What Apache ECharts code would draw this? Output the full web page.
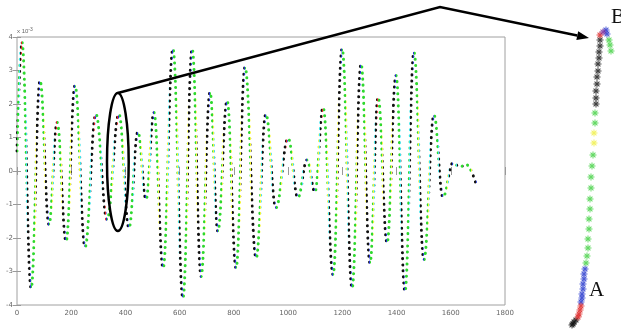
<html>
  <head>
    <meta http-equiv="Content-Type" content="text/html; charset=utf-8" />
    <script src="https://cdn.jsdelivr.net/npm/echarts@6.0.0/dist/echarts.min.js"></script>
  </head>
  <body style="margin:0">
    <div id="main" style="width: 621px;height:330px;"></div>
    <script type="text/javascript">
// turning points of the signal: sample index and value (x 1e-3)
var turnX = [0, 18, 52, 85, 118, 148, 181, 214, 251, 291, 332, 376, 413, 446, 476, 505,
  539, 575, 612, 646, 679, 712, 741, 775, 808, 841, 882, 918, 955, 1000, 1036, 1070,
  1099, 1129, 1166, 1199, 1236, 1269, 1302, 1332, 1365, 1398, 1431, 1464, 1501, 1538,
  1571, 1608, 1634, 1656, 1697];
var turnY = [0.6, 3.85, -3.5, 2.7, -1.6, 1.45, -2.1, 2.55, -2.27, 1.7, -1.45, 1.7, -1.7, 1.17, -0.85, 1.75,
  -2.9, 3.65, -3.8, 3.65, -3.15, 2.35, -1.8, 2.1, -2.9, 3.1, -2.6, 1.7, -1.1, 0.98, -0.8, 0.33,
  -0.63, 1.9, -3.1, 3.65, -3.5, 3.2, -2.75, 2.2, -2.15, 2.85, -3.6, 3.55, -2.65, 1.67,
  -0.78, 0.24, 0.12, 0.2, -0.48];

// colour classes along each half swing (fraction of the swing where each class ends)
var phaseEnd = [0.42, 0.5, 0.57, 0.86, 0.93, 1];
var phaseColor = ['#2ed82e', '#f4f43a', '#3fe0e8', '#111111', '#e02020', '#1f2fd0'];

// zoomed segment A-B on the right (inset units)
var insetBlack = [[600, 40], [600, 46], [599, 52], [599, 58], [598, 64], [598, 71], [597, 77],
  [597, 84], [596, 91], [596, 98], [596, 104], [576, 320], [574, 322], [573, 324], [572, 325]];
var insetRed = [[600, 35], [581, 306], [580, 310], [579, 314], [578, 317]];
var insetPurple = [[603, 32]];
var insetBlue = [[606, 30], [607, 34], [585, 269], [584, 274], [584, 279], [583, 284],
  [583, 289], [582, 294], [582, 298], [581, 302]];
var insetGreen = [[609, 40], [610, 45], [611, 51], [595, 113], [595, 123], [593, 155],
  [592, 166], [591, 177], [591, 188], [590, 199], [590, 209], [589, 219], [589, 229],
  [588, 239], [588, 248], [587, 256], [586, 263]];
var insetYellow = [[594, 133], [594, 143]];

var myChart = echarts.init(document.getElementById('main'));

var lineData = turnX.map(function (x, i) { return [x, turnY[i]]; });

var pieces = [];
for (var i = 0; i < turnX.length - 1; i++) {
  var x0 = turnX[i], x1 = turnX[i + 1], prev = x0;
  for (var k = 0; k < phaseEnd.length; k++) {
    var end = x0 + (x1 - x0) * phaseEnd[k];
    pieces.push({ gte: prev, lt: end, color: phaseColor[k] });
    prev = end;
  }
}

var asterisk = 'path://M-0.14,-1L0.14,-1L0.14,1L-0.14,1Z' +
  'M-1,-0.14L1,-0.14L1,0.14L-1,0.14Z' +
  'M-0.8,-0.6L-0.6,-0.8L0.8,0.6L0.6,0.8Z' +
  'M0.6,-0.8L0.8,-0.6L-0.6,0.8L-0.8,0.6Z';

function insetSeries(data, color) {
  return {
    type: 'scatter', xAxisIndex: 2, yAxisIndex: 2, data: data,
    symbol: asterisk, symbolSize: 7, itemStyle: { color: color }, silent: true
  };
}

var tickStyle = { inside: true, length: 4, lineStyle: { color: '#999' } };
var labelStyle = { fontSize: 7, color: '#666', fontFamily: 'DejaVu Sans',
  formatter: function (v) { return String(v); } };

option = {
  animation: false,
  grid: [
    { left: 17, top: 37, width: 488, height: 268, show: true, borderColor: '#a0a0a0', borderWidth: 1 },
    { left: 0, top: 0, width: 621, height: 330 }
  ],
  xAxis: [
    { type: 'value', min: 0, max: 1800, interval: 200, axisLine: { show: false },
      axisTick: tickStyle, axisLabel: Object.assign({ margin: 5 }, labelStyle), splitLine: { show: false } },
    { type: 'value', position: 'top', min: 0, max: 1800, interval: 200, axisLine: { show: false },
      axisTick: tickStyle, axisLabel: { show: false }, splitLine: { show: false } },
    { type: 'value', gridIndex: 1, min: 0, max: 621, show: false }
  ],
  yAxis: [
    { type: 'value', min: -4, max: 4, interval: 1, axisLine: { show: false },
      axisTick: tickStyle, axisLabel: Object.assign({ margin: 4 }, labelStyle), splitLine: { show: false } },
    { type: 'value', position: 'right', min: -4, max: 4, interval: 1, axisLine: { show: false },
      axisTick: tickStyle, axisLabel: { show: false }, splitLine: { show: false } },
    { type: 'value', gridIndex: 1, min: 0, max: 330, inverse: true, show: false }
  ],
  visualMap: {
    type: 'piecewise', show: false, dimension: 0, seriesIndex: 0,
    pieces: pieces, outOfRange: { color: '#111' }
  },
  series: [
    {
      type: 'line', data: lineData, symbol: 'none', smooth: 0.4, smoothMonotone: 'x',
      lineStyle: { width: 3, type: [0.1, 6], cap: 'round' }, silent: true
    },
    insetSeries(insetGreen, '#3fcf3f'),
    insetSeries(insetYellow, '#efef40'),
    insetSeries(insetBlack, '#111111'),
    insetSeries(insetBlue, '#2233cc'),
    insetSeries(insetRed, '#dd2020'),
    insetSeries(insetPurple, '#7a2a9a')
  ]
};

myChart.setOption(option);

// ellipse round the rising swing that is blown up on the right
var ec = myChart.convertToPixel({ gridIndex: 0 }, [372, 0.27]);
var ee = myChart.convertToPixel({ gridIndex: 0 }, [412, 2.33]);
var erx = ee[0] - ec[0], ery = ec[1] - ee[1];
var eTop = [ec[0], ec[1] - ery];
var apex = [440, 7];
var tip = [589, 38];
var adx = tip[0] - apex[0], ady = tip[1] - apex[1], alen = Math.sqrt(adx * adx + ady * ady);
var ux = adx / alen, uy = ady / alen;
var base = [tip[0] - 12 * ux, tip[1] - 12 * uy];

myChart.setOption({
  graphic: [
    { type: 'ellipse', shape: { cx: ec[0], cy: ec[1], rx: erx, ry: ery },
      style: { fill: 'none', stroke: '#000', lineWidth: 2.5 }, z: 10 },
    { type: 'polyline', shape: { points: [eTop, apex, base] },
      style: { fill: 'none', stroke: '#000', lineWidth: 2.5 }, z: 10 },
    { type: 'polygon', shape: { points: [tip, [base[0] - 4.5 * uy, base[1] + 4.5 * ux], [base[0] + 4.5 * uy, base[1] - 4.5 * ux]] },
      style: { fill: '#000' }, z: 10 },
    { type: 'text', left: 17, top: 27,
      style: { text: '{a|x 10}{b|-3}', rich: { a: { fontSize: 6, fill: '#666' }, b: { fontSize: 5, fill: '#666', verticalAlign: 'top', padding: [0, 0, 4, 0] } } } },
    { type: 'text', left: 589, top: 280,
      style: { text: 'A', font: '21px "Liberation Serif"', fill: '#111' } },
    { type: 'text', left: 611, top: 7,
      style: { text: 'B', font: '21px "Liberation Serif"', fill: '#111' } }
  ]
});
    </script>
  </body>
</html>
